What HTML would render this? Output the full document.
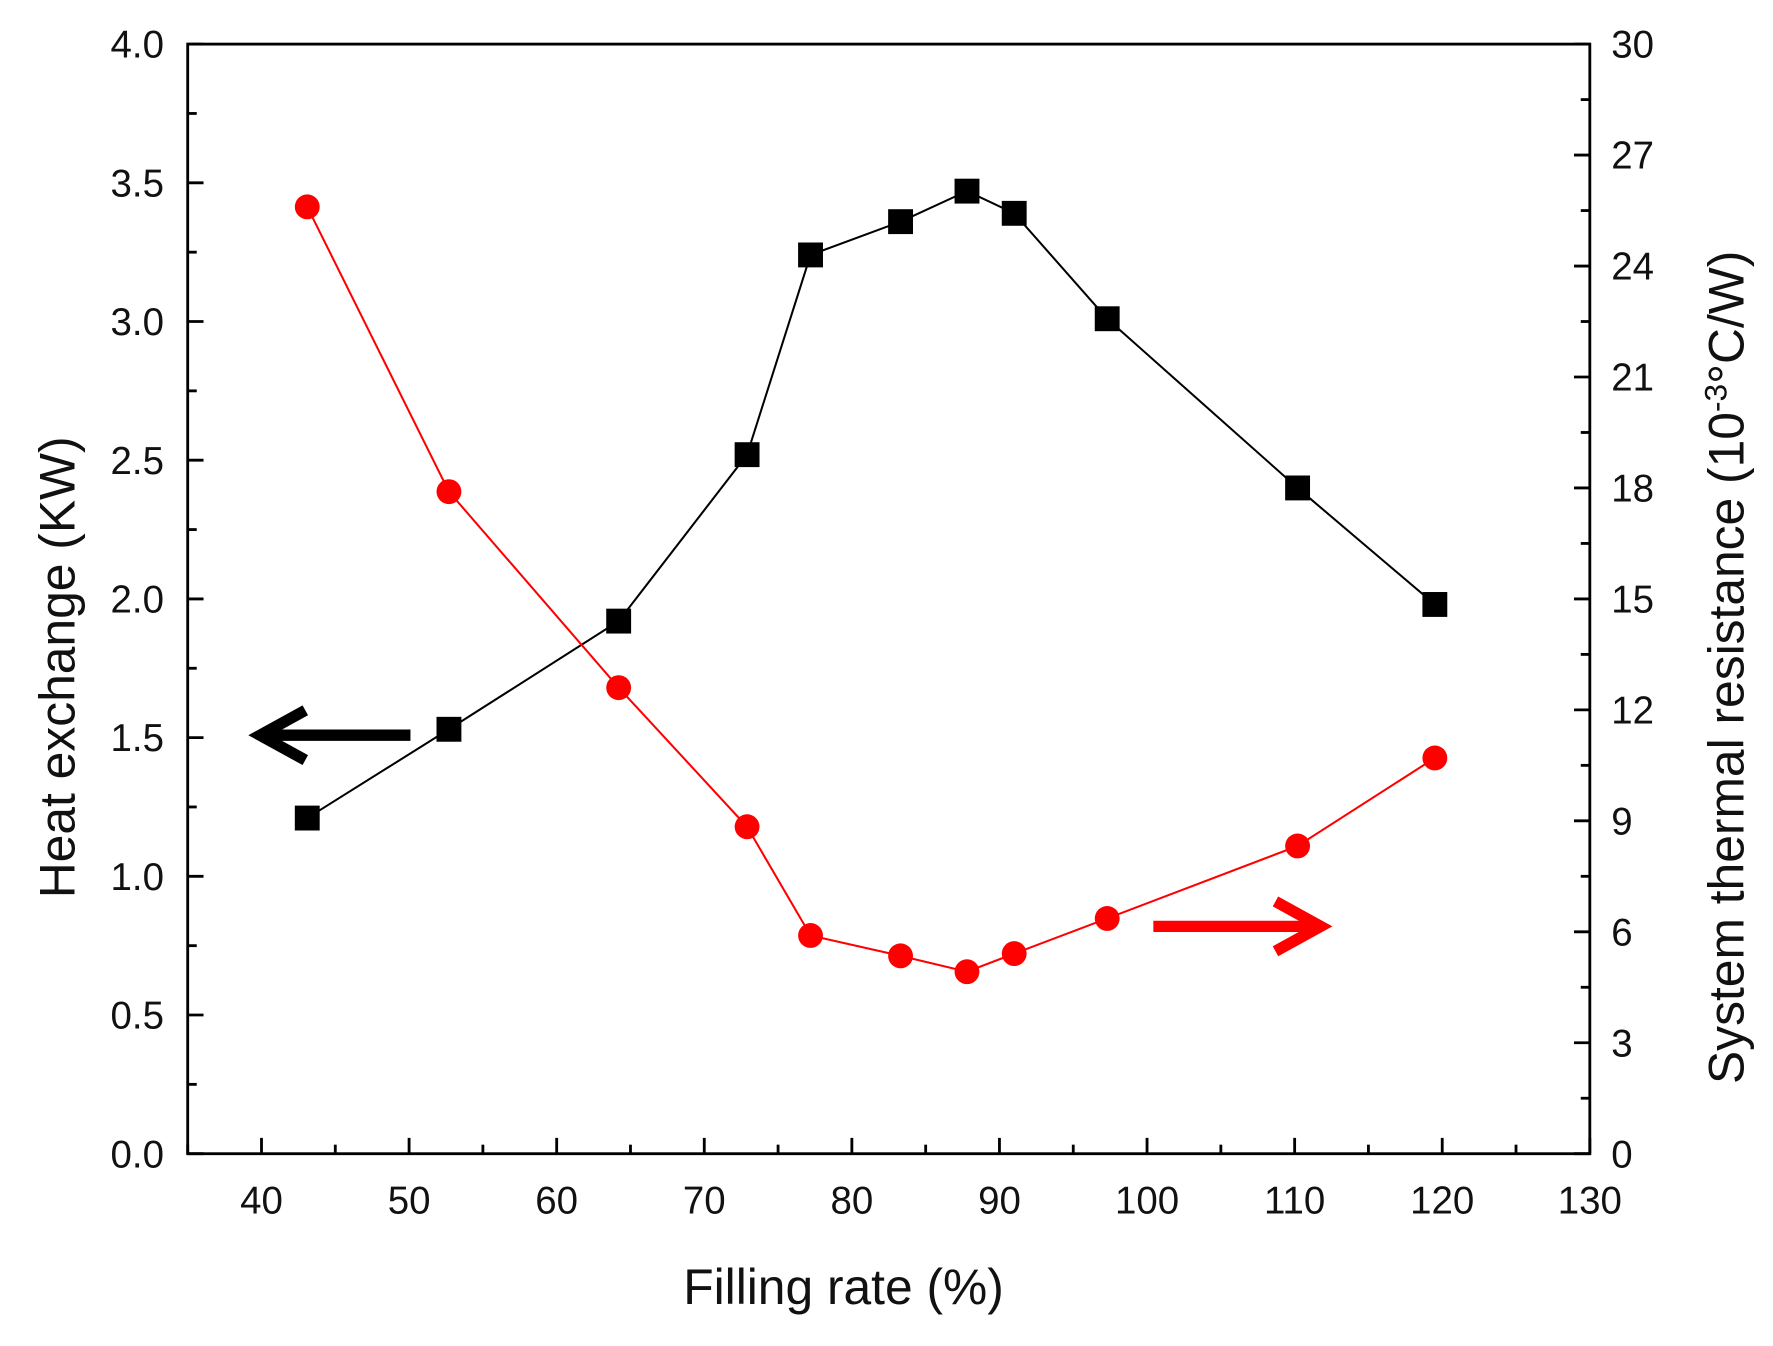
<!DOCTYPE html>
<html><head><meta charset="utf-8"><style>html,body{margin:0;padding:0;background:#fff}svg{display:block}</style></head>
<body>
<svg id="chart" width="1773" height="1346" viewBox="0 0 1568 1190" preserveAspectRatio="none" xmlns="http://www.w3.org/2000/svg" font-family="'Liberation Sans', sans-serif">
<rect x="0" y="0" width="1568" height="1190" fill="#fff"/>
<g id="ticks"></g>
<g id="lines"></g>
<rect x="166" y="39" width="1240" height="981" fill="none" stroke="#000" stroke-width="2.5"/>
<text x="746" y="1153" font-size="44" text-anchor="middle" fill="#111">Filling rate (%)</text>
<text transform="translate(66,590) rotate(-90)" font-size="44" text-anchor="middle" fill="#111">Heat exchange (KW)</text>
<text transform="translate(1542,590) rotate(-90)" font-size="44" text-anchor="middle" fill="#111">System thermal resistance  (10<tspan font-size="28" dy="-15">-3</tspan><tspan dy="15">°C/W)</tspan></text>
<g>
<line x1="363" y1="650" x2="232" y2="650" stroke="#000" stroke-width="10"/>
<polyline points="270,628 230,650 270,672" fill="none" stroke="#000" stroke-width="10"/>
</g>
<g>
<line x1="1020" y1="819" x2="1168" y2="819" stroke="#f00" stroke-width="10"/>
<polyline points="1128,797 1168,819 1128,841" fill="none" stroke="#f00" stroke-width="10"/>
</g>
</svg>
<script>
const fillRate = [43.1, 52.7, 64.2, 72.9, 77.2, 83.3, 87.8, 91.0, 97.3, 110.2, 119.5];
const heatExchange = [1.21, 1.53, 1.92, 2.52, 3.24, 3.36, 3.47, 3.39, 3.01, 2.40, 1.98];
const thermalResistance = [25.6, 17.9, 12.6, 8.84, 5.9, 5.35, 4.92, 5.41, 6.36, 8.32, 10.7];
const xTicks = [40, 50, 60, 70, 80, 90, 100, 110, 120, 130];
const leftTicks = ["0.0","0.5","1.0","1.5","2.0","2.5","3.0","3.5","4.0"];
const rightTicks = [0, 3, 6, 9, 12, 15, 18, 21, 24, 27, 30];

const NS = "http://www.w3.org/2000/svg";
const L = 166, R = 1406, T = 39, B = 1020;
const xs = v => L + (v - 35) / 95 * (R - L);
const yl = v => B - v / 4 * (B - T);
const yr = v => B - v / 30 * (B - T);
function mk(tag, attrs, parent) {
  const e = document.createElementNS(NS, tag);
  for (const k in attrs) e.setAttribute(k, attrs[k]);
  parent.appendChild(e);
  return e;
}
const tg = document.getElementById('ticks');
const lg = document.getElementById('lines');
for (let v = 35; v <= 130; v += 5) {
  const major = v % 10 === 0;
  const t = mk('line', {x1: xs(v), x2: xs(v), y1: B, y2: B - (major ? 14 : 8), stroke: '#000', 'stroke-width': 2.5}, tg);
  
  
}
xTicks.forEach(v => {
  const t = mk('text', {x: xs(v), y: 1073, 'font-size': 34, 'text-anchor': 'middle', fill: '#111'}, tg);
  t.textContent = v;
  
  
});
for (let i = 0; i <= 16; i++) {
  const v = i * 0.25, major = i % 2 === 0;
  const t = mk('line', {x1: L, x2: L + (major ? 14 : 8), y1: yl(v), y2: yl(v), stroke: '#000', 'stroke-width': 2.5}, tg);
  
  
}
leftTicks.forEach(s => {
  const t = mk('text', {x: 145, y: yl(parseFloat(s)) + 12, 'font-size': 34, 'text-anchor': 'end', fill: '#111'}, tg);
  t.textContent = s;
  
  
});
for (let v = 0; v <= 30; v += 1.5) {
  const major = v % 3 === 0;
  const t = mk('line', {x1: R, x2: R - (major ? 14 : 8), y1: yr(v), y2: yr(v), stroke: '#000', 'stroke-width': 2.5}, tg);
  
  
}
rightTicks.forEach(v => {
  const t = mk('text', {x: 1425, y: yr(v) + 12, 'font-size': 34, 'text-anchor': 'start', fill: '#111'}, tg);
  t.textContent = v;
  
  
});
const bl = mk('polyline', {points: fillRate.map((x, i) => xs(x) + ',' + yl(heatExchange[i])).join(' '), fill: 'none', stroke: '#000', 'stroke-width': 1.8}, lg);


const rl = mk('polyline', {points: fillRate.map((x, i) => xs(x) + ',' + yr(thermalResistance[i])).join(' '), fill: 'none', stroke: '#f00', 'stroke-width': 1.8}, lg);


fillRate.forEach((x, i) => {
  const s = mk('rect', {x: xs(x) - 11, y: yl(heatExchange[i]) - 11, width: 22, height: 22, fill: '#000'}, lg);
  
  
  const c = mk('circle', {cx: xs(x), cy: yr(thermalResistance[i]), r: 11, fill: '#f00'}, lg);
  
  
});
</script>
</body></html>
